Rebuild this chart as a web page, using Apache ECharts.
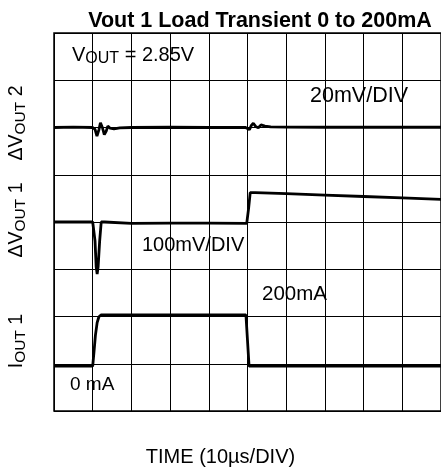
<!DOCTYPE html>
<html>
<head>
<meta charset="utf-8">
<script src="https://cdn.jsdelivr.net/npm/echarts@6/dist/echarts.min.js"></script>
<style>
  html, body { margin: 0; padding: 0; background: #fff; }
  #chart { width: 441px; height: 476px; }
</style>
</head>
<body>
<div id="chart"></div>
<script>
// ---- Data (time in µs, 10 µs/DIV) ----
const chartTitle = 'Vout 1 Load Transient 0 to 200mA';
const xAxisTitle = 'TIME (10µs/DIV)';

// ΔVOUT2 (mV, 20 mV/DIV)
const vout2Trace = [
  [0, 0], [5, 0.2], [10, 0], [10.6, -0.8], [11.1, -3.6], [11.6, -1], [12.0, 2.0],
  [12.5, 0], [13.0, -3.0], [13.5, -1.5], [13.9, 0.6], [14.5, -0.3], [15.5, -0.6],
  [17, -0.2], [20, 0], [30, 0.1], [40, 0], [49.5, 0], [50.0, -0.8], [50.5, -0.9],
  [51.0, 0.9], [51.5, 1.8], [52.2, 0.3], [52.8, -0.1], [53.5, 1.1], [54.5, 0.6],
  [56, 0.3], [60, 0.2], [70, 0.1], [80, 0.1], [90, 0.1], [100, 0.1]
];

// ΔVOUT1 (mV, 100 mV/DIV)
const vout1Trace = [
  [0, 0], [10, 0], [10.2, -2], [10.6, -40], [10.9, -95], [11.15, -110], [11.4, -95],
  [11.8, -40], [12.2, 0], [12.7, 4], [13.1, 0], [13.6, -3], [20, -3], [30, -2.5],
  [40, -2.5], [49.8, -3], [50.3, 30], [50.7, 62], [52, 62], [60, 60], [70, 57],
  [80, 54], [90, 51], [100, 48]
];

// IOUT1 (mA)
const ioutTrace = [
  [0, 0], [10.0, 0], [10.3, 50], [10.7, 120], [11.15, 170], [11.6, 193], [12.2, 200],
  [20, 200], [30, 200], [40, 200], [49.6, 200], [50.0, 100], [50.4, 0], [100, 0]
];

// Annotation texts
const vout2Label = ['ΔV', 'OUT', ' 2'];
const vout1Label = ['ΔV', 'OUT', ' 1'];
const ioutLabel = ['I', 'OUT', ' 1'];
const voutNote = ['V', 'OUT', ' = 2.85V'];
const scale2Note = '20mV/DIV';
const scale1Note = '100mV/DIV';
const highNote = '200mA';
const lowNote = '0 mA';

const FONT = 'Liberation Sans, Arial, sans-serif';

const chart = echarts.init(document.getElementById('chart'), null, { renderer: 'canvas' });

function richSub(parts, size, subSize) {
  return {
    text: '{m|' + parts[0] + '}{s|' + parts[1] + '}{m|' + parts[2] + '}',
    rich: {
      m: { fontSize: size, fontFamily: FONT, fill: '#000', lineHeight: 24 },
      s: { fontSize: subSize, fontFamily: FONT, fill: '#000', lineHeight: 12, verticalAlign: 'bottom' }
    }
  };
}

function rotLabel(parts, cx, cy) {
  const r = richSub(parts, 19.5, 15.5);
  return {
    type: 'text', x: cx, y: cy, rotation: Math.PI / 2, silent: true,
    style: Object.assign({ align: 'center', verticalAlign: 'middle', fontFamily: FONT }, r)
  };
}

const traceStyle = { color: '#000', width: 2.8 };

const option = {
  animation: false,
  backgroundColor: '#fff',
  title: {
    text: chartTitle, left: 255, top: 5, textAlign: 'center',
    textStyle: { fontFamily: FONT, fontSize: 21.5, fontWeight: 'bold', color: '#000' }
  },
  grid: {
    left: 54, top: 33, right: -5, bottom: 65,
    show: true, borderColor: '#000', borderWidth: 1.5, backgroundColor: 'transparent'
  },
  xAxis: {
    type: 'value', min: 0, max: 100, interval: 10,
    axisLine: { show: false }, axisTick: { show: false }, axisLabel: { show: false },
    splitLine: { show: true, lineStyle: { color: '#000', width: 1 } }
  },
  yAxis: [
    {
      type: 'value', min: 0, max: 8, interval: 1,
      axisLine: { show: false }, axisTick: { show: false }, axisLabel: { show: false },
      splitLine: { show: true, lineStyle: { color: '#000', width: 1 } }
    },
    { type: 'value', min: -120, max: 40, show: false, splitLine: { show: false } },
    { type: 'value', min: -400, max: 400, show: false, splitLine: { show: false } },
    { type: 'value', min: -176, max: 1304, show: false, splitLine: { show: false } }
  ],
  series: [
    { type: 'line', name: 'ΔVOUT2', yAxisIndex: 1, data: vout2Trace, showSymbol: false, lineStyle: traceStyle, silent: true },
    { type: 'line', name: 'ΔVOUT1', yAxisIndex: 2, data: vout1Trace, showSymbol: false, lineStyle: traceStyle, silent: true },
    { type: 'line', name: 'IOUT1', yAxisIndex: 3, data: ioutTrace, showSymbol: false, lineStyle: traceStyle, silent: true }
  ],
  graphic: [
    rotLabel(vout2Label, 17, 123),
    rotLabel(vout1Label, 17, 220),
    rotLabel(ioutLabel, 17, 341),
    {
      type: 'text', left: 72, top: 45, silent: true,
      style: Object.assign({ fontFamily: FONT }, richSub(voutNote, 20, 16))
    },
    { type: 'text', left: 310, top: 85, silent: true,
      style: { text: scale2Note, fontFamily: FONT, fontSize: 21.5, fill: '#000' } },
    { type: 'text', left: 142, top: 235, silent: true,
      style: { text: scale1Note, fontFamily: FONT, fontSize: 20, fill: '#000' } },
    { type: 'text', left: 262, top: 284, silent: true,
      style: { text: highNote, fontFamily: FONT, fontSize: 20.5, fill: '#000' } },
    { type: 'text', left: 70, top: 375, silent: true,
      style: { text: lowNote, fontFamily: FONT, fontSize: 19, fill: '#000' } },
    { type: 'text', left: 'center', top: 447, silent: true,
      style: { text: xAxisTitle, fontFamily: FONT, fontSize: 20, fill: '#000' } }
  ]
};

chart.setOption(option);
</script>
</body>
</html>
